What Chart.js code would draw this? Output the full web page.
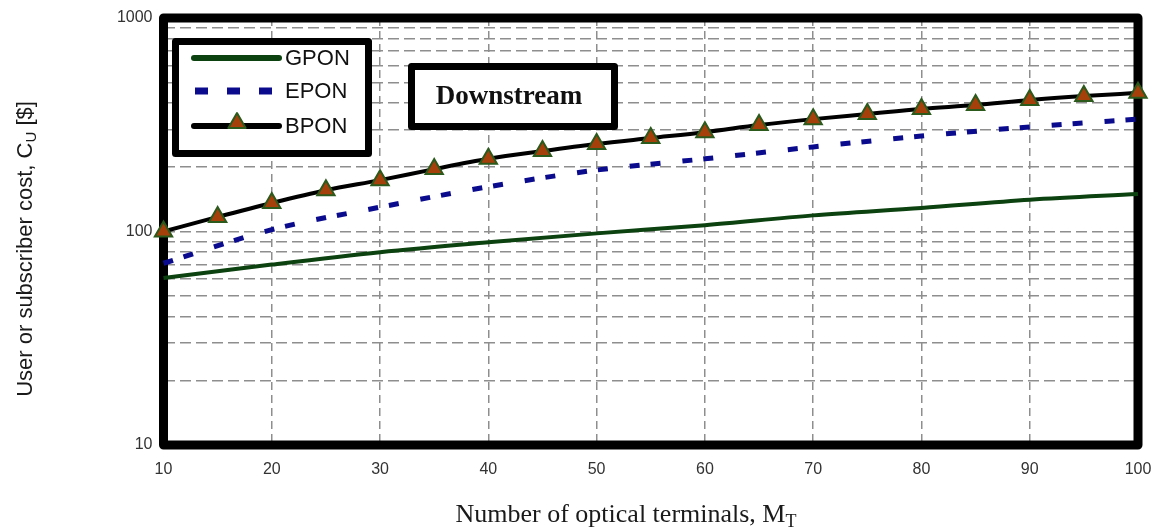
<!DOCTYPE html>
<html>
<head>
<meta charset="utf-8">
<script src="https://cdn.jsdelivr.net/npm/chart.js@4.4.1/dist/chart.umd.min.js"></script>
<style>
  html, body { margin: 0; padding: 0; background: #fff; }
  #wrap { width: 1156px; height: 531px; position: relative; }
</style>
</head>
<body>
<div id="wrap"><canvas id="chart"></canvas></div>
<script>
// Number of optical terminals (x) and user cost in $ (log y)
const bponTerminals = [10, 15, 20, 25, 30, 35, 40, 45, 50, 55, 60, 65, 70, 75, 80, 85, 90, 95, 100];
const bponCost      = [100, 117, 136, 156, 174, 196, 219, 238, 257, 274, 292, 315, 336, 355, 375, 391, 413, 431, 446];

const eponTerminals = [10, 20, 30, 40, 50, 60, 70, 80, 90, 100];
const eponCost      = [71, 102, 130, 162, 194, 219, 249, 280, 309, 336];

const gponTerminals = [10, 20, 30, 40, 50, 60, 70, 80, 90, 100];
const gponCost      = [60.5, 70, 80, 89, 98, 107, 119, 129, 141, 150];

const xTickValues = [10, 20, 30, 40, 50, 60, 70, 80, 90, 100];
const yTickValues = [10, 20, 30, 40, 50, 60, 70, 80, 90, 100, 200, 300, 400, 500, 600, 700, 800, 900, 1000];
const yTickLabels = ['10', '100', '1000'];

const seriesNames = ['GPON', 'EPON', 'BPON'];

const GPON_COLOR = '#0c420f';
const EPON_COLOR = '#0b0b8e';
const BPON_COLOR = '#000000';
const MARK_FILL = '#a5400b';
const MARK_EDGE = '#2b5a1c';
const GRID_COLOR = '#8e8e8e';

const toPoints = (xs, ys) => xs.map((x, i) => ({ x: x, y: ys[i] }));

// Draws a string with one subscripted part, centred on (0,0) of the current transform
function drawSubText(ctx, pieces, baseY) {
  let total = 0;
  pieces.forEach(p => { ctx.font = p.font; p.w = ctx.measureText(p.text).width; total += p.w; });
  let x = -total / 2;
  ctx.textAlign = 'left';
  ctx.textBaseline = 'alphabetic';
  pieces.forEach(p => {
    ctx.font = p.font;
    ctx.fillText(p.text, x, baseY + (p.dy || 0));
    x += p.w;
  });
}

function drawTriangle(ctx, x, y, r) {
  ctx.beginPath();
  ctx.moveTo(x, y - r);
  ctx.lineTo(x + r * Math.sin(Math.PI * 2 / 3), y - r * Math.cos(Math.PI * 2 / 3));
  ctx.lineTo(x + r * Math.sin(Math.PI * 4 / 3), y - r * Math.cos(Math.PI * 4 / 3));
  ctx.closePath();
  ctx.fillStyle = MARK_FILL;
  ctx.fill();
  ctx.lineWidth = 2;
  ctx.strokeStyle = MARK_EDGE;
  ctx.stroke();
}

const decor = {
  id: 'decor',
  beforeDatasetsDraw(chart) {
    const { ctx, chartArea: a } = chart;
    ctx.save();
    ctx.strokeStyle = '#000';
    ctx.lineWidth = 9;
    ctx.lineJoin = 'round';
    ctx.strokeRect(a.left, a.top, a.right - a.left, a.bottom - a.top);
    ctx.restore();
  },
  afterDatasetsDraw(chart) {
    const { ctx } = chart;
    ctx.save();
    // legend box
    ctx.fillStyle = '#fff';
    ctx.fillRect(175.5, 41.5, 193, 112);
    ctx.lineWidth = 7;
    ctx.strokeStyle = '#000';
    ctx.lineJoin = 'round';
    ctx.strokeRect(175.5, 41.5, 193, 112);

    ctx.lineCap = 'round';
    // GPON sample
    ctx.strokeStyle = GPON_COLOR;
    ctx.lineWidth = 6;
    ctx.beginPath(); ctx.moveTo(194, 58); ctx.lineTo(279, 58); ctx.stroke();
    // EPON sample
    ctx.lineCap = 'butt';
    ctx.strokeStyle = EPON_COLOR;
    ctx.lineWidth = 7;
    [[195, 208], [227, 240], [259, 272]].forEach(d => {
      ctx.beginPath(); ctx.moveTo(d[0], 91); ctx.lineTo(d[1], 91); ctx.stroke();
    });
    // BPON sample
    ctx.lineCap = 'round';
    ctx.strokeStyle = BPON_COLOR;
    ctx.lineWidth = 6;
    ctx.beginPath(); ctx.moveTo(194, 126); ctx.lineTo(279, 126); ctx.stroke();
    drawTriangle(ctx, 237, 123, 10);

    ctx.fillStyle = '#111';
    ctx.font = '22px "Liberation Sans", Arial, sans-serif';
    ctx.textAlign = 'left';
    ctx.textBaseline = 'middle';
    ctx.fillText(seriesNames[0], 285, 59);
    ctx.fillText(seriesNames[1], 285, 92);
    ctx.fillText(seriesNames[2], 285, 127);

    // annotation box
    ctx.fillStyle = '#fff';
    ctx.fillRect(411.5, 66.5, 203, 60);
    ctx.lineWidth = 7;
    ctx.strokeStyle = '#000';
    ctx.strokeRect(411.5, 66.5, 203, 60);
    ctx.fillStyle = '#111';
    ctx.font = 'bold 27px "Liberation Serif", "Times New Roman", serif';
    ctx.textAlign = 'center';
    ctx.textBaseline = 'alphabetic';
    ctx.fillText('Downstream', 509, 104);
    ctx.restore();
  },
  afterDraw(chart) {
    const { ctx } = chart;
    ctx.save();
    ctx.fillStyle = '#1a1a1a';
    // y-axis title
    ctx.translate(32, 249);
    ctx.rotate(-Math.PI / 2);
    const ySans = '"Liberation Sans", Arial, sans-serif';
    drawSubText(ctx, [
      { text: 'User or subscriber cost, C', font: '22px ' + ySans },
      { text: 'U', font: '15px ' + ySans, dy: 4 },
      { text: ' [$]', font: '22px ' + ySans }
    ], 0);
    ctx.restore();

    ctx.save();
    ctx.fillStyle = '#1a1a1a';
    ctx.translate(626, 522);
    const xSerif = '"Liberation Serif", "Times New Roman", serif';
    drawSubText(ctx, [
      { text: 'Number of optical terminals, M', font: '26px ' + xSerif },
      { text: 'T', font: '18px ' + xSerif, dy: 5 }
    ], 0);
    ctx.restore();
  }
};

const tickFont = { family: '"Liberation Sans", Arial, sans-serif', size: 16 };

new Chart(document.getElementById('chart'), {
  type: 'line',
  data: {
    datasets: [
      {
        label: seriesNames[0],
        data: toPoints(gponTerminals, gponCost),
        borderColor: GPON_COLOR,
        borderWidth: 4,
        pointRadius: 0,
        cubicInterpolationMode: 'monotone',
        clip: false
      },
      {
        label: seriesNames[1],
        data: toPoints(eponTerminals, eponCost),
        borderColor: EPON_COLOR,
        borderWidth: 5,
        borderDash: [10, 11, 10, 22],
        pointRadius: 0,
        cubicInterpolationMode: 'monotone',
        clip: false
      },
      {
        label: seriesNames[2],
        data: toPoints(bponTerminals, bponCost),
        borderColor: BPON_COLOR,
        borderWidth: 4,
        pointStyle: 'triangle',
        pointRadius: 10,
        pointBorderWidth: 2,
        pointBackgroundColor: MARK_FILL,
        pointBorderColor: MARK_EDGE,
        cubicInterpolationMode: 'monotone',
        clip: false
      }
    ]
  },
  options: {
    responsive: true,
    maintainAspectRatio: false,
    animation: false,
    devicePixelRatio: 1,
    layout: { padding: { top: 18, right: 18, left: 0, bottom: 0 } },
    plugins: { legend: { display: false }, tooltip: { enabled: false } },
    scales: {
      x: {
        type: 'linear',
        min: 10,
        max: 100,
        afterFit(scale) { scale.height = 86; scale.paddingLeft = 0; scale.paddingRight = 0; },
        afterBuildTicks(scale) { scale.ticks = xTickValues.map(v => ({ value: v })); },
        ticks: { color: '#333', font: tickFont, padding: 15, maxRotation: 0, autoSkip: false },
        grid: { color: GRID_COLOR, lineWidth: 1.5, drawTicks: false },
        border: { display: false, dash: [8, 5] }
      },
      y: {
        type: 'logarithmic',
        min: 10,
        max: 1000,
        afterFit(scale) { scale.width = 163.5; scale.paddingTop = 0; scale.paddingBottom = 0; },
        afterBuildTicks(scale) { scale.ticks = yTickValues.map(v => ({ value: v })); },
        ticks: {
          color: '#333',
          font: tickFont,
          padding: 11,
          autoSkip: false,
          callback: v => (yTickLabels.includes(String(v)) ? String(v) : '')
        },
        grid: { color: GRID_COLOR, lineWidth: 1.5, drawTicks: false },
        border: { display: false, dash: [11, 5] }
      }
    }
  },
  plugins: [decor]
});
</script>
</body>
</html>
